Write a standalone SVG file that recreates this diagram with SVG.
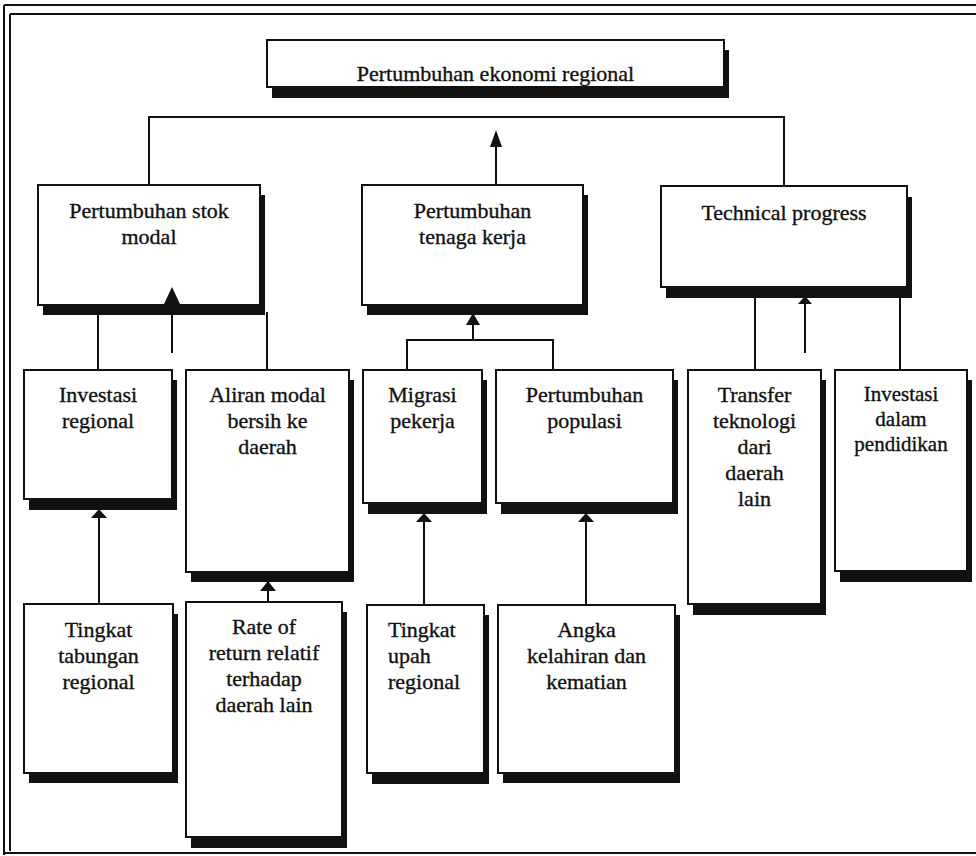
<svg xmlns="http://www.w3.org/2000/svg" width="976" height="856" viewBox="0 0 976 856">
<style>
.box{fill:#fff;stroke:#111;stroke-width:2}
.sh{fill:#111}
.ln{fill:none;stroke:#111;stroke-width:2}
.ah{fill:#111}
text{font-family:"Liberation Serif","Times New Roman",serif;font-size:22px;fill:#111;stroke:#111;stroke-width:0.35}
.c{text-anchor:middle}
.s{font-size:21px}
.fr{fill:none;stroke:#111;stroke-width:2}
</style>
<rect width="976" height="856" fill="#fff"/>
<g id="frame">
<line class="fr" x1="4" y1="5" x2="976" y2="5"/>
<line class="fr" x1="10" y1="14" x2="976" y2="14"/>
<line class="fr" x1="4" y1="5" x2="4" y2="855"/>
<line class="fr" x1="10" y1="14" x2="10" y2="851"/>
<line class="fr" x1="4" y1="853" x2="976" y2="853" stroke-width="3"/>
</g>
<g id="n-ekonomi">
<rect class="sh" x="272" y="50" width="457" height="48"/>
<rect class="box" x="267" y="40" width="457" height="47"/>
<text class="c" x="495.5" y="81">Pertumbuhan ekonomi regional</text>
</g>
<g id="n-stok">
<rect class="sh" x="43" y="195" width="222" height="120"/>
<rect class="box" x="38" y="185" width="222" height="120"/>
<text class="c" x="149" y="218">Pertumbuhan stok</text>
<text class="c" x="149" y="244">modal</text>
</g>
<g id="n-tenaga">
<rect class="sh" x="367" y="195" width="221" height="120"/>
<rect class="box" x="362" y="185" width="221" height="120"/>
<text class="c" x="472.5" y="218">Pertumbuhan</text>
<text class="c" x="472.5" y="244">tenaga kerja</text>
</g>
<g id="n-tech">
<rect class="sh" x="666" y="197" width="246" height="101"/>
<rect class="box" x="661" y="186" width="246" height="101"/>
<text class="c" x="784" y="220">Technical progress</text>
</g>
<g id="n-investasi">
<rect class="sh" x="29" y="380" width="148" height="130"/>
<rect class="box" x="24" y="370" width="148" height="129"/>
<text class="c" x="98" y="402">Investasi</text>
<text class="c" x="98" y="428">regional</text>
</g>
<g id="n-aliran">
<rect class="sh" x="191" y="380" width="163" height="202"/>
<rect class="box" x="186" y="370" width="163" height="202"/>
<text class="c" x="267.5" y="402">Aliran modal</text>
<text class="c" x="267.5" y="428">bersih ke</text>
<text class="c" x="267.5" y="454">daerah</text>
</g>
<g id="n-migrasi">
<rect class="sh" x="368" y="380" width="119" height="134"/>
<rect class="box" x="363" y="370" width="119" height="133"/>
<text class="c" x="422.5" y="402">Migrasi</text>
<text class="c" x="422.5" y="428">pekerja</text>
</g>
<g id="n-populasi">
<rect class="sh" x="501" y="380" width="177" height="134"/>
<rect class="box" x="496" y="370" width="177" height="133"/>
<text class="c" x="584.5" y="402">Pertumbuhan</text>
<text class="c" x="584.5" y="428">populasi</text>
</g>
<g id="n-transfer">
<rect class="sh" x="693" y="380" width="133" height="235"/>
<rect class="box" x="688" y="370" width="133" height="234"/>
<text class="c" x="754.5" y="402">Transfer</text>
<text class="c" x="754.5" y="428">teknologi</text>
<text class="c" x="754.5" y="454">dari</text>
<text class="c" x="754.5" y="480">daerah</text>
<text class="c" x="754.5" y="506">lain</text>
</g>
<g id="n-pendidikan">
<rect class="sh" x="840" y="380" width="132" height="202"/>
<rect class="box" x="835" y="370" width="132" height="201"/>
<text class="c s" x="901" y="401">Investasi</text>
<text class="c s" x="901" y="426">dalam</text>
<text class="c s" x="901" y="451">pendidikan</text>
</g>
<g id="n-tabungan">
<rect class="sh" x="29" y="614" width="149" height="169"/>
<rect class="box" x="24" y="604" width="149" height="169"/>
<text class="c" x="98.5" y="637">Tingkat</text>
<text class="c" x="98.5" y="663">tabungan</text>
<text class="c" x="98.5" y="689">regional</text>
</g>
<g id="n-rate">
<rect class="sh" x="191" y="612" width="156" height="236"/>
<rect class="box" x="186" y="602" width="156" height="235"/>
<text class="c" x="264" y="634">Rate of</text>
<text class="c" x="264" y="660">return relatif</text>
<text class="c" x="264" y="686">terhadap</text>
<text class="c" x="264" y="712">daerah lain</text>
</g>
<g id="n-upah">
<rect class="sh" x="372" y="615" width="117" height="169"/>
<rect class="box" x="367" y="605" width="117" height="168"/>
<text x="388" y="637">Tingkat</text>
<text x="388" y="663">upah</text>
<text x="388" y="689">regional</text>
</g>
<g id="n-angka">
<rect class="sh" x="503" y="615" width="177" height="168"/>
<rect class="box" x="498" y="605" width="177" height="168"/>
<text class="c" x="586.5" y="637">Angka</text>
<text class="c" x="586.5" y="663">kelahiran dan</text>
<text class="c" x="586.5" y="689">kematian</text>
</g>
<g id="connectors">
<polyline class="ln" points="149,185 149,117 784,117 784,185"/>
<line class="ln" x1="496" y1="185" x2="496" y2="145"/>
<polygon class="ah" points="496,130 490,147 502,147"/>
<line class="ln" x1="98" y1="315" x2="98" y2="370"/>
<line class="ln" x1="267" y1="312" x2="267" y2="370"/>
<line class="ln" x1="172" y1="353" x2="172" y2="303"/>
<polygon class="ah" points="172,287 163.5,305 180.5,305"/>
<line class="ln" x1="473" y1="340" x2="473" y2="323"/>
<polygon class="ah" points="473,313 466,325 480,325"/>
<polyline class="ln" points="407,370 407,340 553,340 553,370"/>
<line class="ln" x1="755" y1="297" x2="755" y2="370"/>
<line class="ln" x1="900" y1="297" x2="900" y2="370"/>
<line class="ln" x1="805" y1="353" x2="805" y2="302"/>
<polygon class="ah" points="805,296 798,304 812,304"/>
<line class="ln" x1="99" y1="604" x2="99" y2="515"/>
<polygon class="ah" points="99,509 91,518 107,518"/>
<line class="ln" x1="268" y1="602" x2="268" y2="588"/>
<polygon class="ah" points="268,581 260,591 276,591"/>
<line class="ln" x1="424" y1="605" x2="424" y2="519"/>
<polygon class="ah" points="424,513 416,522 432,522"/>
<line class="ln" x1="586" y1="605" x2="586" y2="519"/>
<polygon class="ah" points="586,513 578,522 594,522"/>
</g>
</svg>
